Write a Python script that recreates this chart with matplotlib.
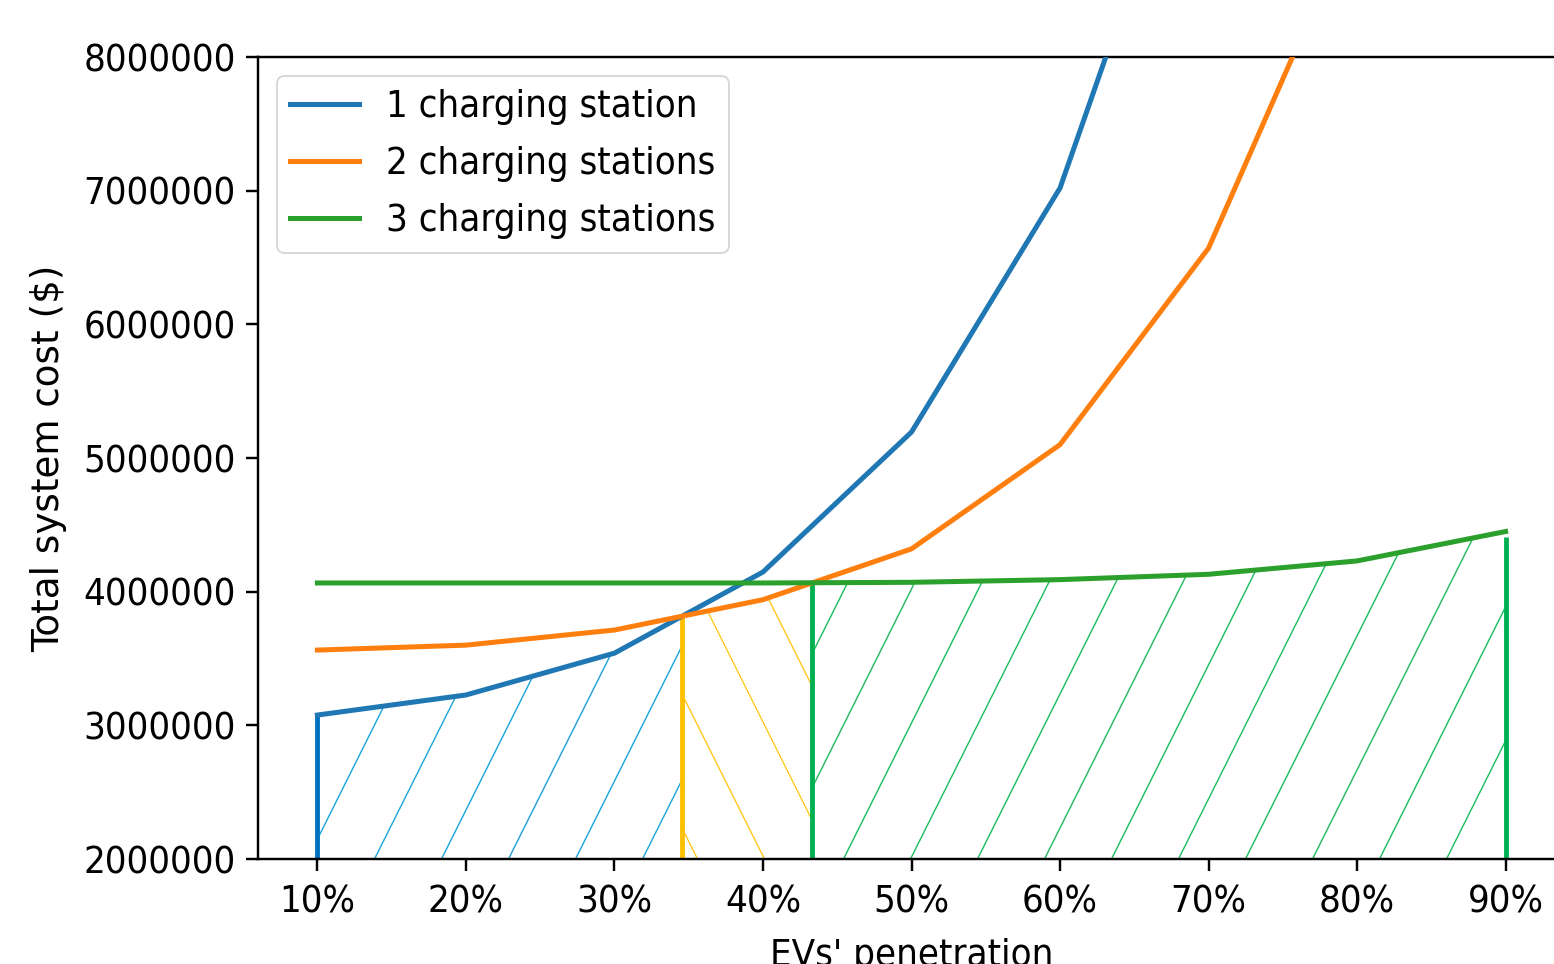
import numpy as np
import matplotlib
matplotlib.use("Agg")
import matplotlib.pyplot as plt
import matplotlib.hatch as mhatch
from matplotlib.path import Path

# ---------------- data ----------------
penetration = [10, 20, 30, 40, 50, 60, 70, 80, 90]
tick_labels = ["10%", "20%", "30%", "40%", "50%", "60%", "70%", "80%", "90%"]
cost_1cs = [3077000, 3227000, 3540000, 4147000, 5194000, 7020000, 10200000, 16000000, 25000000]
cost_2cs = [3563000, 3600000, 3713000, 3940000, 4320000, 5100000, 6570000, 9100000, 12500000]
cost_3cs = [4065000, 4065000, 4065000, 4065000, 4070000, 4090000, 4130000, 4230000, 4450000]
series_labels = ["1 charging station", "2 charging stations", "3 charging stations"]
yticks = [2000000, 3000000, 4000000, 5000000, 6000000, 7000000, 8000000]

# ---------------- steep hatch patterns ----------------
class SteepNE(mhatch.HatchPatternBase):
    def __init__(self, hatch, density):
        self.on = hatch.count('/') > 0
        self.ks = np.arange(-2, 3)
        self.num_vertices = 2 * len(self.ks) if self.on else 0

    def set_vertices_and_codes(self, vertices, codes):
        e = 0.1
        for i, k in enumerate(self.ks):
            x0 = k * 0.5
            vertices[2 * i] = (x0 - e * 0.5, -e)
            vertices[2 * i + 1] = (x0 + 0.5 + e * 0.5, 1 + e)
            codes[2 * i] = Path.MOVETO
            codes[2 * i + 1] = Path.LINETO


class SteepSE(mhatch.HatchPatternBase):
    def __init__(self, hatch, density):
        self.on = hatch.count('\\') > 0
        self.ks = np.arange(-2, 3)
        self.num_vertices = 2 * len(self.ks) if self.on else 0

    def set_vertices_and_codes(self, vertices, codes):
        e = 0.1
        for i, k in enumerate(self.ks):
            x0 = k * 0.5
            vertices[2 * i] = (x0 - e * 0.5, 1 + e)
            vertices[2 * i + 1] = (x0 + 0.5 + e * 0.5, -e)
            codes[2 * i] = Path.MOVETO
            codes[2 * i + 1] = Path.LINETO


mhatch._hatch_types = [
    SteepNE if t is mhatch.NorthEastHatch else SteepSE if t is mhatch.SouthEastHatch else t
    for t in mhatch._hatch_types
]

# ---------------- style ----------------
DPI = 134
FS = 20.5
plt.rcParams["font.family"] = ["DejaVu Sans"]
plt.rcParams["font.stretch"] = "condensed"
plt.rcParams["font.size"] = FS
plt.rcParams["hatch.linewidth"] = 0.75
plt.rcParams["axes.linewidth"] = 1.3
plt.rcParams["xtick.major.size"] = 6.4
plt.rcParams["ytick.major.size"] = 6.4
plt.rcParams["xtick.major.width"] = 1.3
plt.rcParams["ytick.major.width"] = 1.3
plt.rcParams["xtick.major.pad"] = 7.3
plt.rcParams["ytick.major.pad"] = 5.5

fig = plt.figure(figsize=(1554 / DPI, 964 / DPI), dpi=DPI)
ax = fig.add_axes([258 / 1554, 1 - 859 / 964, (1565 - 258) / 1554, 802 / 964])

x = np.array(penetration, dtype=float)
c1 = np.array(cost_1cs, dtype=float)
c2 = np.array(cost_2cs, dtype=float)
c3 = np.array(cost_3cs, dtype=float)


def crossing(xa, ya, yb):
    d = ya - yb
    for i in range(len(xa) - 1):
        if d[i] * d[i + 1] <= 0 and d[i] != d[i + 1]:
            t = d[i] / (d[i] - d[i + 1])
            return xa[i] + t * (xa[i + 1] - xa[i])
    return None


x12 = crossing(x, c1, c2)
x23 = crossing(x, c2, c3)

lw = 2.7
ax.plot(x, c1, color="#1f77b4", lw=lw, label=series_labels[0], zorder=3)
ax.plot(x, c2, color="#ff7f0e", lw=lw, label=series_labels[1], zorder=3)
ax.plot(x, c3, color="#2ca02c", lw=lw, label=series_labels[2], zorder=3)

ybot = yticks[0]
xf = np.linspace(x[0], x[-1], 2001)
xf = np.union1d(xf, [x12, x23])
y1f = np.interp(xf, x, c1)
y2f = np.interp(xf, x, c2)
y3f = np.interp(xf, x, c3)

ax.fill_between(xf, ybot, y1f, where=(xf <= x12), facecolor="none",
                edgecolor="#1CA2DA", linewidth=0, hatch="/", zorder=1)
ax.fill_between(xf, ybot, y2f, where=(xf >= x12) & (xf <= x23), facecolor="none",
                edgecolor="#FFC820", linewidth=0, hatch="\\", zorder=1)
ax.fill_between(xf, ybot, y3f, where=(xf >= x23), facecolor="none",
                edgecolor="#1DBB5E", linewidth=0, hatch="/", zorder=1)

vw = 2.6
ax.vlines(x[0], ybot, np.interp(x[0], x, c1), color="#0070C0", lw=vw, zorder=2)
ax.vlines(x12, ybot, np.interp(x12, x, c2), color="#FFC000", lw=vw, zorder=2)
ax.vlines(x23, ybot, np.interp(x23, x, c3), color="#00B050", lw=vw, zorder=2)
ax.vlines(x[-1], ybot, np.interp(x[-1], x, c3) - 40000, color="#00B050", lw=vw, zorder=2)

ax.set_xlim(6, 94)
ax.set_ylim(yticks[0], yticks[-1])
ax.set_xticks(penetration)
ax.set_xticklabels(tick_labels)
ax.set_yticks(yticks)
ax.set_yticklabels([str(v) for v in yticks])
ax.set_xlabel("EVs' penetration", labelpad=9.5)
ax.set_ylabel("Total system cost ($)", labelpad=9, fontstretch="normal", fontsize=20)
ax.legend(loc="upper left", handlelength=1.8, labelspacing=0.55,
          borderpad=0.35, handletextpad=0.7)

fig.savefig("out.png", dpi=DPI)
